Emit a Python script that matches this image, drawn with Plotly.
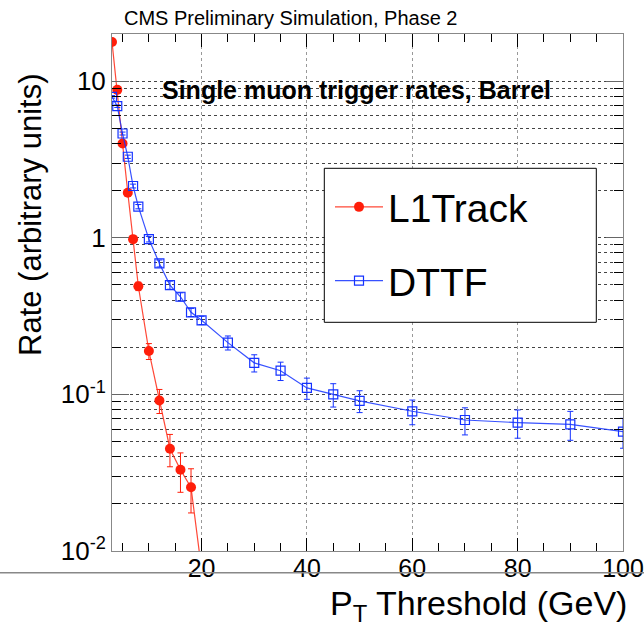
import plotly.graph_objects as go

# L1Track
l1_x = [3, 4, 5, 6, 7, 8, 10, 12, 14, 16, 18, 20]
l1_y = [17.8, 8.8, 4.0, 1.94, 0.98, 0.49, 0.189, 0.0915, 0.045, 0.033, 0.0255, 0.0076]
l1_err = [0.3, 0.2, 0.12, 0.08, 0.05, 0.03, 0.022, 0.016, 0.0105, 0.0093, 0.008, 0.0]

# DTTF
dt_x = [3, 4, 5, 6, 7, 8, 10, 12, 14, 16, 18, 20, 25, 30, 35, 40, 45, 50, 60, 70, 80, 90, 100]
dt_y = [7.94, 6.92, 4.63, 3.29, 2.14, 1.58, 0.98, 0.686, 0.499, 0.42, 0.334, 0.297,
        0.214, 0.159, 0.1416, 0.110, 0.100, 0.091, 0.078, 0.0686, 0.066, 0.0644, 0.0578]
dt_err = [0.15, 0.13, 0.1, 0.08, 0.06, 0.05, 0.04, 0.035, 0.03, 0.025, 0.02, 0.018,
          0.022, 0.02, 0.019, 0.017, 0.017, 0.0145, 0.014, 0.0135, 0.0135, 0.0135, 0.0125]

y_tickvals = [0.01, 0.1, 1, 10]
y_ticktext = ["10<sup>-2</sup>", "10<sup>-1</sup>", "1", "10"]
y_minor_vals = [m * d for d in [0.01, 0.1, 1, 10] for m in range(2, 10)]
x_tickvals = [20, 40, 60, 80, 100]

FONT = "Liberation Sans, Arial, sans-serif"
RED = "rgb(255,30,10)"
BLUE = "rgb(20,50,255)"

fig = go.Figure()
fig.add_trace(go.Scatter(
    x=l1_x, y=l1_y, name="L1Track", mode="lines+markers",
    line=dict(color="rgba(255,40,20,0.85)", width=1.2),
    marker=dict(symbol="circle", size=10, color=RED),
    error_y=dict(type="data", array=l1_err, color=RED, thickness=1, width=3),
    legendgroup="a",
))
fig.add_trace(go.Scatter(
    x=dt_x, y=dt_y, name="DTTF", mode="lines+markers",
    line=dict(color="rgba(20,50,255,0.85)", width=1.2),
    marker=dict(symbol="square-open", size=9, color=BLUE, line=dict(width=1.2, color=BLUE)),
    error_y=dict(type="data", array=dt_err, color=BLUE, thickness=1, width=3),
    legendgroup="b",
))

L, R, T, B = 112, 21, 34, 78
W, H = 644, 629
pw, ph = W - L - R, H - T - B

def px(x):
    return (x - L) / pw

def py(y):
    return 1 - (y - T) / ph

fig.update_layout(
    width=W, height=H,
    margin=dict(l=L, r=R, t=T, b=B, pad=0, autoexpand=False),
    paper_bgcolor="white", plot_bgcolor="white",
    font=dict(family=FONT, color="black"),
    showlegend=True,
    legend=dict(
        x=px(330), y=py(175), xanchor="left", yanchor="top",
        font=dict(size=39, family=FONT, color="black"),
        bgcolor="rgba(0,0,0,0)", borderwidth=0,
        tracegroupgap=20, traceorder="grouped",
        itemwidth=48,
    ),
    xaxis=dict(
        type="linear", range=[3, 100], automargin=False,
        tickvals=x_tickvals, ticks="inside", ticklen=13, tickcolor="black",
        tickfont=dict(size=25, family=FONT), ticklabelstandoff=-5,
        showgrid=True, gridcolor="#999", griddash="dot", gridwidth=1,
        showline=True, linecolor="#888", linewidth=1, mirror="ticks",
        zeroline=False,
        minor=dict(dtick=5, tick0=0, ticks="inside", ticklen=8, tickcolor="black", showgrid=False),
    ),
    yaxis=dict(
        type="log", range=[-2, 1.301], automargin=False,
        tickvals=y_tickvals, ticktext=y_ticktext,
        ticks="inside", ticklen=17, tickcolor="#666",
        tickfont=dict(size=26, family=FONT),
        showgrid=True, gridcolor="#444", griddash="dot", gridwidth=1,
        showline=True, linecolor="#888", linewidth=1, mirror="ticks",
        zeroline=False,
        minor=dict(tickvals=y_minor_vals, ticks="inside", ticklen=9, tickcolor="black",
                   showgrid=True, gridcolor="#444", griddash="dot", gridwidth=1),
    ),
    shapes=[
        dict(type="rect", xref="paper", yref="paper",
             x0=px(324.3), x1=px(596.3), y0=py(322.3), y1=py(168.3),
             line=dict(color="black", width=1), fillcolor="white", layer="above"),
        dict(type="line", xref="paper", yref="paper",
             x0=px(0), x1=px(644), y0=py(572.7), y1=py(572.7),
             line=dict(color="#888", width=1.5)),
    ],
    annotations=[
        dict(text="CMS Preliminary Simulation, Phase 2", xref="paper", yref="paper",
             x=px(122), y=py(18), xanchor="left", yanchor="middle", showarrow=False,
             font=dict(size=20, family=FONT)),
        dict(text="<b>Single muon trigger rates, Barrel</b>", xref="paper", yref="paper",
             x=px(160), y=py(90), xanchor="left", yanchor="middle", showarrow=False,
             font=dict(size=25, family=FONT)),
        dict(text="P<sub>T</sub> Threshold (GeV)", xref="paper", yref="paper",
             x=px(628), y=py(628), xanchor="right", yanchor="bottom", showarrow=False,
             font=dict(size=34, family=FONT), borderpad=0),
        dict(text="Rate (arbitrary units)", xref="paper", yref="paper",
             x=px(31), y=py(215), xanchor="center", yanchor="middle", showarrow=False,
             textangle=-90, font=dict(size=31, family=FONT)),
    ],
)

fig.write_html("out.html")
